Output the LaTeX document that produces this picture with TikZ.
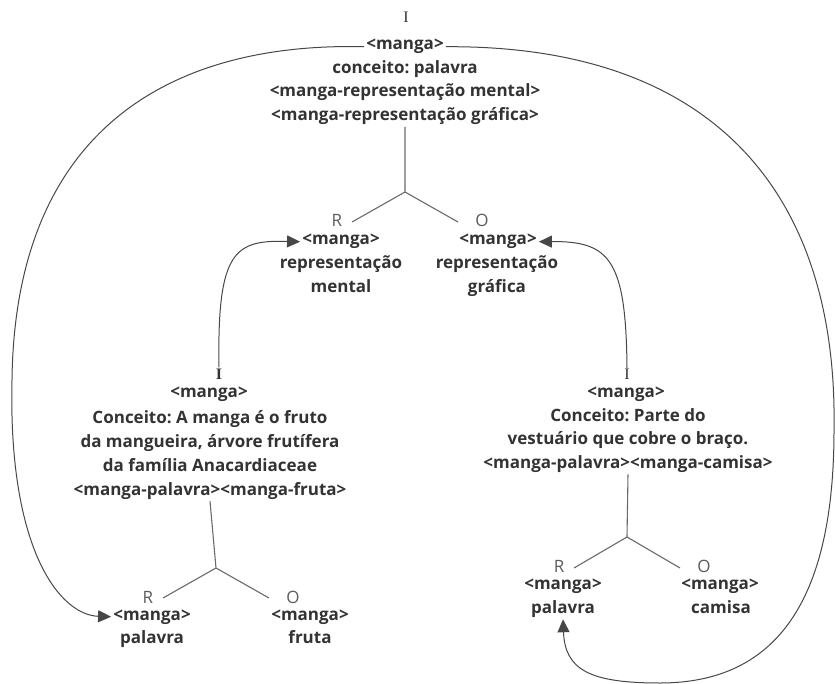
\documentclass[tikz,border=0pt]{standalone}
\usepackage{fontspec}
\setmainfont{Open Sans}
\newfontfamily\ifont{Liberation Serif}
\usetikzlibrary{arrows.meta}
\frenchspacing
\definecolor{ink}{HTML}{333333}
\definecolor{wire}{HTML}{474747}
\definecolor{stem}{HTML}{6a6a6a}
\tikzset{
  txt/.style={font=\fontsize{17}{23.5}\selectfont\bfseries, text=ink, align=center, inner sep=2pt, anchor=base},
  lbl/.style={font=\fontsize{17}{20}\selectfont, text=ink!80, inner sep=1pt, anchor=base},
  sign/.style={font=\ifont\fontsize{16}{18}\selectfont, text=ink, inner sep=1pt, anchor=base},
  stemline/.style={draw=stem, line width=1.1pt},
  link/.style={draw=wire, line width=1pt, -{Triangle[length=13pt,width=12pt]}},
}
\begin{document}
\begin{tikzpicture}[x=1pt,y=-1pt]
\useasboundingbox (0,0) rectangle (835,684);

% top interpretant (multi-line nodes are placed by the baseline of their last line)
\node[sign] (tI) at (406,23) {I};
\node[txt] (tm) at (405,50) {<manga>};
\node[txt] (tb) at (405,120.5) {conceito: palavra\\<manga-representação mental>\\<manga-representação gráfica>};
\coordinate (tj) at (405,192);
\coordinate (tjl) at (352,222);
\coordinate (tjr) at (458,222);
\draw[stemline] (tb.south) -- (tj) (tjl) -- (tj) -- (tjr);
\node[lbl] (tR) at (337,227) {R};
\node[lbl] (tO) at (482,227) {O};

% representamen and object of the top sign
\node[txt] (lm) at (341,245) {<manga>};
\node[txt] (lb) at (341,292.5) {representação\\mental};
\node[txt] (rm) at (498,245) {<manga>};
\node[txt] (rb) at (497,292.5) {representação\\gráfica};

% left interpretant (fruit)
\node[sign, font=\ifont\bfseries\fontsize{16}{18}\selectfont] (aI) at (219,379) {I};
\node[txt] (am) at (209,397) {<manga>};
\node[txt, font=\fontsize{17}{24}\selectfont\bfseries] (ab) at (210,495) {Conceito: A manga é o fruto\\da mangueira, árvore frutífera\\da família Anacardiaceae\\<manga-palavra><manga-fruta>};
\coordinate (aj) at (216,568);
\coordinate (ajl) at (163,598);
\coordinate (ajr) at (269,598);
\draw[stemline] (ab.south) -- (aj) (ajl) -- (aj) -- (ajr);
\node[lbl] (aR) at (148,603) {R};
\node[lbl] (aO) at (293,603) {O};
\node[txt] (lpm) at (152,620) {<manga>};
\node[txt] (lpb) at (152,643) {palavra};
\node[txt] (fm) at (310,620) {<manga>};
\node[txt] (fb) at (310,643) {fruta};

% right interpretant (sleeve)
\node[sign] (bI) at (627,380) {I};
\node[txt] (bm) at (626,397) {<manga>};
\node[txt] (bb) at (628,468) {Conceito: Parte do\\vestuário que cobre o braço.\\<manga-palavra><manga-camisa>};
\coordinate (bj) at (627,537);
\coordinate (bjl) at (574,568);
\coordinate (bjr) at (680,568);
\draw[stemline] (bb.south) -- (bj) (bjl) -- (bj) -- (bjr);
\node[lbl] (bR) at (559,572) {R};
\node[lbl] (bO) at (704,572) {O};
\node[txt] (rpm) at (563,589) {<manga>};
\node[txt] (rpb) at (563,613) {palavra};
\node[txt] (cm) at (720,589) {<manga>};
\node[txt] (cb) at (721,613) {camisa};

% connectors
\coordinate (lbend) at (12,380);
\coordinate (rbend) at (834,430);
\coordinate (rlow) at (660,683);
\draw[link] (aI.north) .. controls (217,250) and (235,240) .. (lm.west);
\draw[link] (bI.north) .. controls (626,260) and (610,241) .. (rm.east);
\draw[link] (tm.west) .. controls (170,42) and (15,130) .. (lbend)
  .. controls (8,550) and (60,615) .. (lpm.west);
\draw[link] (tm.east) .. controls (720,45) and (838,200) .. (rbend)
  .. controls (834,580) and (790,683) .. (rlow)
  .. controls (590,683) and (565,670) .. (rpb.south);
\end{tikzpicture}
\end{document}
